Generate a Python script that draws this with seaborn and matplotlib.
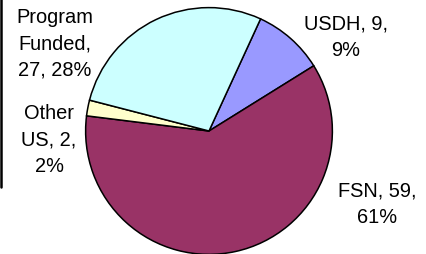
import matplotlib
matplotlib.use("Agg")
import matplotlib.pyplot as plt
import seaborn as sns

# staff categories (Excel pie, clockwise from ~25 deg past 12 o'clock)
categories = ["USDH", "FSN", "Other US", "Program Funded"]
counts = [9, 59, 2, 27]
label_lines = [["USDH, 9,", "9%"],
               ["FSN, 59,", "61%"],
               ["Other", "US, 2,", "2%"],
               ["Program", "Funded,", "27, 28%"]]
colors = ["#9999FF", "#993366", "#FFFFCC", "#CCFFFF"]

sns.set_theme(style="white")
plt.rcParams["font.family"] = ["Liberation Sans", "DejaVu Sans"]

W, H = 426, 255
fig = plt.figure(figsize=(W / 100, H / 100), dpi=100)
fig.patch.set_facecolor("white")

# pie centre and radius in pixels
cx, cy, r = 209, 132, 124
ax = fig.add_axes([(cx - r) / W, (H - cy - r) / H, 2 * r / W, 2 * r / H])

first_angle = 24.7  # degrees clockwise from north
ax.pie(counts, colors=colors, startangle=90 - first_angle, counterclock=False,
       radius=1, wedgeprops=dict(edgecolor="black", linewidth=1.1))
ax.set_xlim(-1.005, 1.005)
ax.set_ylim(-1.005, 1.005)
ax.set_aspect("equal")
ax.axis("off")

# label centres in pixels (x from left, y from top)
label_pos = [(346, 37), (377, 204), (49, 140), (55, 44)]
for lines, (px, py) in zip(label_lines, label_pos):
    fig.text(px / W, 1 - py / H, "\n".join(lines), ha="center", va="center",
             multialignment="center", fontsize=14.4, linespacing=1.5,
             color="black")

# cropped border line on the left edge
fig.add_artist(plt.Line2D([1.2 / W, 1.2 / W], [1, 1 - 188 / H],
                          color="black", linewidth=1.8))

fig.savefig("out.png", dpi=100)
